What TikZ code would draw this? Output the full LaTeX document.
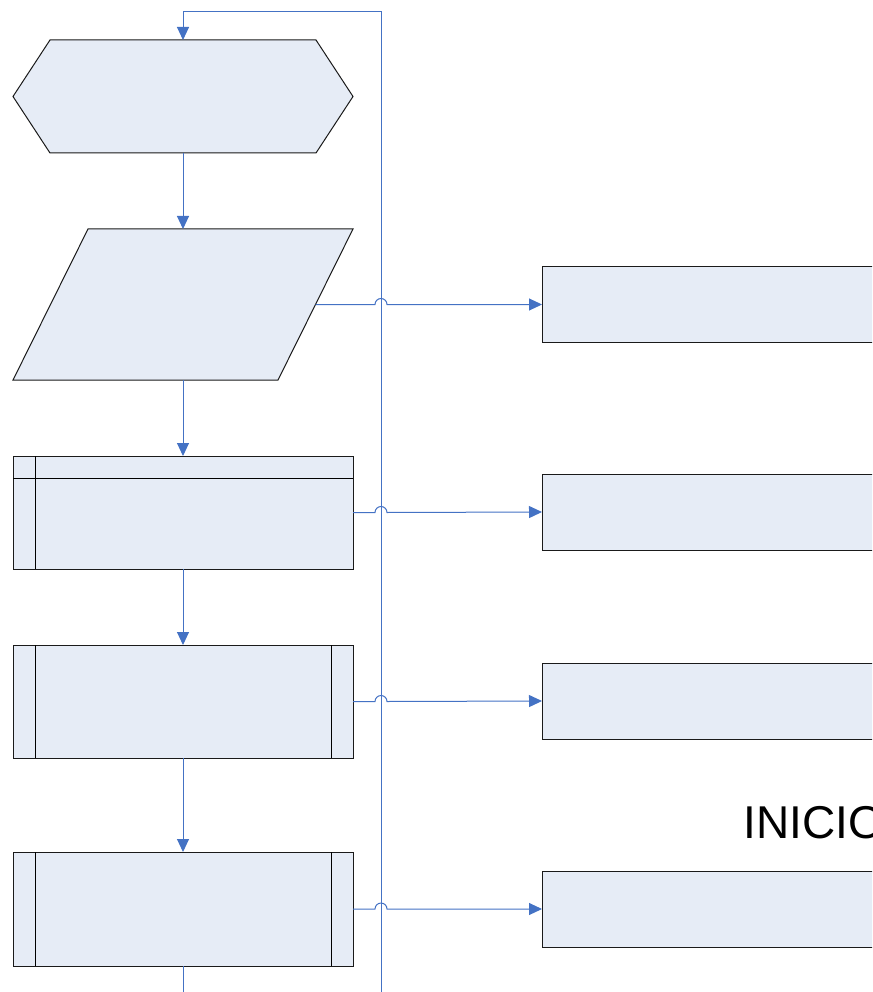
\documentclass[tikz,border=0pt]{standalone}
\usepackage{fontspec}
\newfontfamily\arialfont{Liberation Sans}
\usetikzlibrary{arrows.meta,calc}
\definecolor{boxfill}{HTML}{E6ECF6}
\definecolor{connblue}{HTML}{4472C4}
\definecolor{edge}{HTML}{1A1A1A}
\begin{document}
\begin{tikzpicture}[x=1pt,y=1pt,
  frame/.style={draw=edge,fill=boxfill,line width=1pt},
  holder/.style={rectangle,inner sep=0pt,outer sep=0pt,draw=none},
  inner/.style={draw=black,line width=1pt},
  conn/.style={draw=connblue,line width=1pt,-{Triangle[length=13pt,width=12pt]}},
  wire/.style={draw=connblue,line width=1pt},
  rbox/.style={rectangle,inner sep=0pt,outer sep=0pt,frame,minimum width=360pt,minimum height=76pt,anchor=west}]
\useasboundingbox (0,0) rectangle (872,-992);
\clip (0,0) rectangle (872,-992);

% shape holders
\node[holder,minimum width=340pt,minimum height=113pt] (hex) at (183,-96.5) {};
\node[holder,minimum width=340pt,minimum height=151pt] (para) at (183,-304.5) {};
\node[holder,minimum width=340pt,minimum height=113pt] (store) at (183,-512.5) {};
\node[holder,minimum width=340pt,minimum height=113pt] (proc1) at (183,-701.5) {};
\node[holder,minimum width=340pt,minimum height=114pt] (proc2) at (183,-909) {};

% hexagon
\draw[frame] (hex.west) -- ([xshift=37pt]hex.north west) -- ([xshift=-37pt]hex.north east)
  -- (hex.east) -- ([xshift=-37pt]hex.south east) -- ([xshift=37pt]hex.south west) -- cycle;
% parallelogram
\draw[frame] ([xshift=75pt]para.north west) -- (para.north east) -- ([xshift=-75pt]para.south east) -- (para.south west) -- cycle;
\coordinate (paraR) at ($(para.north east)!0.5!([xshift=-75pt]para.south east)$);
% internal storage
\draw[frame] (store.north west) rectangle (store.south east);
\draw[inner] ([xshift=22pt]store.north west) -- ([xshift=22pt]store.south west);
\draw[inner] ([yshift=-22pt]store.north west) -- ([yshift=-22pt]store.north east);
% predefined processes
\foreach \n in {proc1,proc2}{
  \draw[frame] (\n.north west) rectangle (\n.south east);
  \draw[inner] ([xshift=22pt]\n.north west) -- ([xshift=22pt]\n.south west);
  \draw[inner] ([xshift=-22pt]\n.north east) -- ([xshift=-22pt]\n.south east);
}

% right boxes
\node[rbox] (r1) at (542,-304.5) {};
\node[rbox] (r2) at (542,-512) {};
\node[rbox] (r3) at (542,-701) {};
\node[rbox] (r4) at (542,-909) {};

\node[anchor=base west,inner sep=0pt,font=\arialfont\fontsize{46}{50}\selectfont] (title) at (743,-838) {INICIO};

% feedback loop
\coordinate (loopbot) at (381,-1000);
\coordinate (looptop) at (381,-12);
\draw[conn] (loopbot) -- (looptop) -| (hex.north);

% vertical flow
\draw[conn] (hex.south) -- (para.north);
\draw[conn] (para.south) -- (store.north);
\draw[conn] (store.south) -- (proc1.north);
\draw[conn] (proc1.south) -- (proc2.north);
\coordinate (flowbot) at (183,-1000);
\draw[wire] (proc2.south) -- (flowbot);

% horizontal flows with hops over the loop line
\draw[conn] (paraR) -- (375,-304.5) arc[start angle=180,end angle=0,radius=6pt] -- (r1.west);
\draw[conn] (store.east) -- (375,-512.5) arc[start angle=180,end angle=0,radius=6pt] -- (r2.west);
\draw[conn] (proc1.east) -- (375,-701.5) arc[start angle=180,end angle=0,radius=6pt] -- (r3.west);
\draw[conn] (proc2.east) -- (375,-909) arc[start angle=180,end angle=0,radius=6pt] -- (r4.west);
\end{tikzpicture}
\end{document}
